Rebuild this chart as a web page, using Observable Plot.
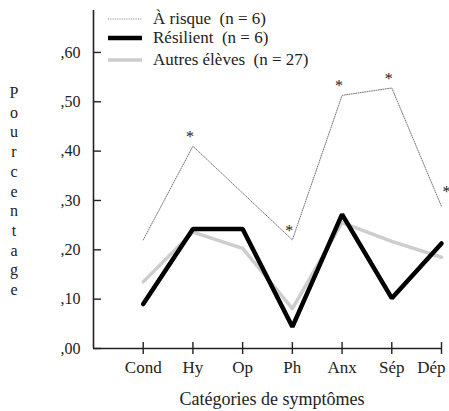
<!DOCTYPE html>
<html>
<head>
<meta charset="utf-8">
<script src="https://cdn.jsdelivr.net/npm/d3@7"></script>
<script src="https://cdn.jsdelivr.net/npm/@observablehq/plot@0.6"></script>
<style>
  html, body { margin: 0; padding: 0; background: #fff; }
  #wrap { position: relative; width: 449px; height: 411px; font-family: "Liberation Serif", serif; color: #222; overflow: hidden; }
  #wrap > svg { position: absolute; left: 0; top: 0; }
  .lg { position: absolute; left: 108px; height: 20px; display: flex; align-items: center; font-family: "Liberation Serif", serif; font-size: 17px; white-space: pre; color: #222; }
  .lg svg { margin-right: 11px; }
  #ylab { position: absolute; left: 5px; top: 83px; width: 18px; text-align: center; font-family: "Liberation Serif", serif; font-size: 16px; line-height: 19.7px; color: #222; }
  #xlab { position: absolute; left: 272px; top: 390px; transform: translateX(-50%); font-family: "Liberation Serif", serif; font-size: 18px; white-space: nowrap; line-height: 18px; color: #222; }
</style>
</head>
<body>
<div id="wrap"></div>
<script>
const categories = ["Cond", "Hy", "Op", "Ph", "Anx", "Sép", "Dép"];
const aRisque   = [0.220, 0.410, 0.315, 0.220, 0.513, 0.528, 0.288];
const resilient = [0.090, 0.242, 0.242, 0.044, 0.272, 0.102, 0.213];
const autres    = [0.135, 0.236, 0.203, 0.081, 0.255, 0.217, 0.185];
const significant = [false, true, false, true, true, true, true];
const yTicks = [0, 0.1, 0.2, 0.3, 0.4, 0.5, 0.6];
const seriesNames = ["À risque  (n = 6)", "Résilient  (n = 6)", "Autres élèves  (n = 27)"];
const yLabel = "Pourcentage";
const xLabel = "Catégories de symptômes";

const rows = categories.map((c, i) => ({
  i: i + 1, c, risque: aRisque[i], resilient: resilient[i], autres: autres[i], sig: significant[i]
}));
const xIdx = rows.map(d => d.i);
const last = rows.length;

const fmt = d => "," + d3.format(".2f")(d).split(".")[1];

const chart = Plot.plot({
  width: 449,
  height: 411,
  marginLeft: 93,
  marginRight: 8,
  marginTop: 10,
  marginBottom: 63,
  style: { fontFamily: "Liberation Serif, serif", background: "transparent", color: "#222" },
  x: { domain: [0, 7], axis: null },
  y: { domain: [0, 0.685], axis: null },
  marks: [
    Plot.ruleX([0], { stroke: "#222", strokeWidth: 1.6 }),
    Plot.ruleY([0], { stroke: "#222", strokeWidth: 1.6 }),
    Plot.axisY({ ticks: yTicks, tickSize: 8, dx: 8, text: null, stroke: "#222", strokeWidth: 1.4 }),
    Plot.axisY({ ticks: yTicks, tickSize: 0, tickPadding: 13, tickFormat: fmt, fontSize: 16, fill: "#222", label: null }),
    Plot.axisX({ ticks: xIdx, tickSize: 12, dy: -6, text: null, stroke: "#222", strokeWidth: 1.4, label: null }),
    Plot.text(rows.filter(d => d.i < last), { x: "i", y: () => 0, text: "c", dy: 19, fontSize: 17, fill: "#222" }),
    Plot.text(rows.filter(d => d.i === last), { x: "i", y: () => 0, text: "c", dy: 19, dx: 4, textAnchor: "end", fontSize: 17, fill: "#222" }),
    Plot.line(rows, { x: "i", y: "autres", stroke: "#cdcdcd", strokeWidth: 3.5 }),
    Plot.line(rows, { x: "i", y: "resilient", stroke: "#000", strokeWidth: 4.5, strokeLinejoin: "miter" }),
    Plot.line(rows, { x: "i", y: "risque", stroke: "#777", strokeWidth: 1, strokeDasharray: "1,1.3" }),
    Plot.text(rows.filter(d => d.sig && d.i < last), { x: "i", y: "risque", text: () => "*", dy: -9, dx: -3, fontSize: 16, fill: "#222" }),
    Plot.text(rows.filter(d => d.sig && d.i === last), { x: "i", y: "risque", text: () => "*", dy: -15, dx: 5, fontSize: 16, fill: "#222" })
  ]
});

const wrap = document.getElementById("wrap");
wrap.appendChild(chart);

const styles = [
  { stroke: "#777", width: 1, dash: "1,1.3" },
  { stroke: "#000", width: 4.5, dash: null },
  { stroke: "#cdcdcd", width: 3.5, dash: null }
];
const rowTops = [9, 28, 50];
seriesNames.forEach((name, k) => {
  const div = document.createElement("div");
  div.className = "lg";
  div.style.top = rowTops[k] + "px";
  const s = styles[k];
  div.innerHTML = `<svg width="34" height="10"><line x1="0" x2="34" y1="5" y2="5" stroke="${s.stroke}" stroke-width="${s.width}" ${s.dash ? `stroke-dasharray="${s.dash}"` : ""}/></svg><span>${name}</span>`;
  wrap.appendChild(div);
});

const yl = document.createElement("div");
yl.id = "ylab";
yl.innerHTML = yLabel.split("").map(ch => `<div>${ch}</div>`).join("");
wrap.appendChild(yl);

const xl = document.createElement("div");
xl.id = "xlab";
xl.textContent = xLabel;
wrap.appendChild(xl);
</script>
</body>
</html>
